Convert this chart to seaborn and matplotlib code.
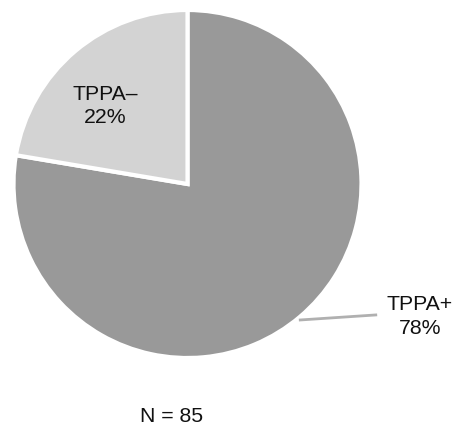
import matplotlib
matplotlib.use("Agg")
import matplotlib.pyplot as plt
import seaborn as sns

# Serology results: counts of TPPA-positive and TPPA-negative samples
labels = ["TPPA+", "TPPA\u2013"]
counts = [66, 19]
colors = ["#999999", "#d3d3d3"]

sns.set_theme(style="white")
plt.rcParams["font.family"] = ["Liberation Sans", "DejaVu Sans"]

total = sum(counts)
pct = [round(c / total * 100) for c in counts]

W, H = 455, 427
fig = plt.figure(figsize=(W / 100, H / 100), dpi=100)
fig.patch.set_facecolor("white")

# pie centre at (187.5, 185) px, radius 174 px
cx, cy, r = 187.5, 185, 174
ax = fig.add_axes([(cx - r) / W, (H - cy - r) / H, 2 * r / W, 2 * r / H])
ax.pie(counts, colors=colors, startangle=90, counterclock=False,
       wedgeprops=dict(edgecolor="white", linewidth=3))
ax.set_xlim(-1, 1)
ax.set_ylim(-1, 1)
ax.set_aspect("auto")
ax.axis("off")

fs = 15.3
ax.text(-0.474, 0.455, f"{labels[1]}\n{pct[1]}%", ha="center", va="center",
        fontsize=fs, color="#111111", linespacing=1.3)
ax.text(1.335, -0.757, f"{labels[0]}\n{pct[0]}%", ha="center", va="center",
        fontsize=fs, color="#111111", linespacing=1.3, clip_on=False)
ax.plot([0.64, 1.09], [-0.782, -0.752], color="#b0b0b0", lw=2,
        solid_capstyle="butt", clip_on=False)

fig.text(172 / W, 1 - 417 / H, f"N = {total}", ha="center", va="center",
         fontsize=fs, color="#111111")

fig.savefig("out.png", dpi=100, facecolor="white")
